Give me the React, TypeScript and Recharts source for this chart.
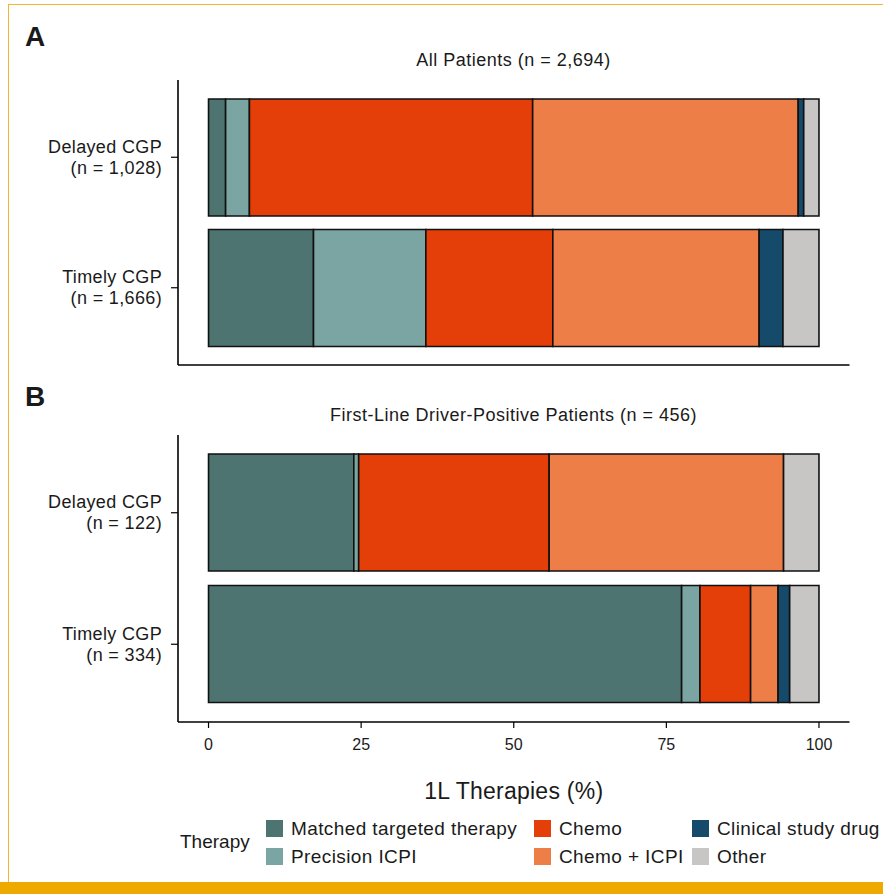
import React from "react";
import { BarChart, Bar, XAxis, YAxis } from "recharts";

// therapy categories, in stacking order (left to right)
const therapyKeys = ["matched", "precision", "chemo", "chemoIcpi", "clinical", "other"];
const therapyLabels = [
  "Matched targeted therapy",
  "Precision ICPI",
  "Chemo",
  "Chemo + ICPI",
  "Clinical study drug",
  "Other",
];
const therapyColors = ["#4d7470", "#7aa5a2", "#e43e09", "#ee7e48", "#164a6b", "#c8c5c5"];

// panel A: all patients
const allCohorts = ["Delayed CGP\n(n = 1,028)", "Timely CGP\n(n = 1,666)"];
const allDelayed = [2.8, 3.9, 46.4, 43.5, 0.9, 2.5];
const allTimely = [17.2, 18.4, 20.8, 33.8, 3.9, 5.9];

// panel B: first-line driver-positive patients
const driverCohorts = ["Delayed CGP\n(n = 122)", "Timely CGP\n(n = 334)"];
const driverDelayed = [23.8, 0.8, 31.2, 38.4, 0, 5.8];
const driverTimely = [77.5, 3.0, 8.3, 4.5, 1.9, 4.8];

const xTicks = [0, 25, 50, 75, 100];

const FONT = "'Liberation Sans', Arial, Helvetica, sans-serif";
const INK = "#1a1a1a";

function toRows(cohorts: string[], values: number[][]) {
  return cohorts.map((c, i) => {
    const row: Record<string, string | number> = { cohort: c };
    therapyKeys.forEach((k, j) => (row[k] = values[i][j]));
    return row;
  });
}

const CohortTick = (props: any) => {
  const { x, y, payload } = props;
  const [l1, l2] = String(payload.value).split("\n");
  return (
    <text
      x={x}
      y={y}
      textAnchor="end"
      fontSize={18}
      fill={INK}
      fontFamily={FONT}
      style={{ letterSpacing: "0.35px" }}
    >
      <tspan x={x} y={y - 4.5}>{l1}</tspan>
      <tspan x={x} y={y + 16.5}>{l2}</tspan>
    </text>
  );
};

function Panel({
  rows,
  showTicks,
  height,
  axisHeight,
  top,
}: {
  rows: Record<string, string | number>[];
  showTicks: boolean;
  height: number;
  axisHeight: number;
  top: number;
}) {
  return (
    <BarChart
      width={883}
      height={height}
      data={rows}
      layout="vertical"
      margin={{ top, right: 33.5, left: 0, bottom: 0 }}
    >
      <XAxis
        type="number"
        domain={[-5, 105]}
        ticks={xTicks}
        height={axisHeight}
        axisLine={{ stroke: "#000", strokeWidth: 1.6 }}
        tickLine={showTicks ? { stroke: "#000", strokeWidth: 1.2 } : false}
        tick={showTicks ? { fill: INK, fontSize: 16, fontFamily: FONT } : false}
        tickSize={6}
        tickMargin={11}
        label={
          showTicks
            ? {
                value: "1L Therapies (%)",
                position: "insideBottom",
                offset: 8,
                fill: INK,
                fontSize: 23,
                fontFamily: FONT,
                style: { letterSpacing: "0.25px" },
              }
            : undefined
        }
      />
      <YAxis
        type="category"
        dataKey="cohort"
        width={178}
        padding={{ top: 12, bottom: 12 }}
        axisLine={{ stroke: "#000", strokeWidth: 1.6 }}
        tickLine={{ stroke: "#000", strokeWidth: 1.2 }}
        tickSize={7}
        tickMargin={9}
        tick={<CohortTick />}
        interval={0}
      />
      {therapyKeys.map((k, i) => (
        <Bar
          key={k}
          dataKey={k}
          stackId="t"
          fill={therapyColors[i]}
          stroke="#111"
          strokeWidth={1.6}
          barSize={117}
          isAnimationActive={false}
        />
      ))}
    </BarChart>
  );
}

const abs = (s: React.CSSProperties): React.CSSProperties => ({ position: "absolute", ...s });

const titleStyle: React.CSSProperties = {
  left: 178,
  width: 671,
  fontSize: 18,
  lineHeight: "18px",
  letterSpacing: "0.5px",
  textAlign: "center",
  whiteSpace: "nowrap",
};

export default function App() {
  const rowsA = toRows(allCohorts, [allDelayed, allTimely]);
  const rowsB = toRows(driverCohorts, [driverDelayed, driverTimely]);
  return (
    <div
      style={abs({
        left: 0,
        top: 0,
        width: 883,
        height: 894,
        background: "#fff",
        overflow: "hidden",
        fontFamily: FONT,
        color: INK,
      })}
    >
      {/* journal frame */}
      <div style={abs({ left: 8, top: 4, width: 875, height: 1, background: "#f2b633" })} />
      <div style={abs({ left: 8, top: 4, width: 1, height: 878, background: "#f2b633" })} />
      <div style={abs({ left: 0, top: 882, width: 883, height: 12, background: "#eeaa00" })} />

      <div style={abs({ left: 0, top: 0 })}>
        <Panel rows={rowsA} showTicks={false} height={380} axisHeight={15} top={80} />
      </div>
      <div style={abs({ left: 0, top: 380 })}>
        <Panel rows={rowsB} showTicks={true} height={427} axisHeight={85} top={55} />
      </div>

      <div style={abs({ left: 25, top: 23, fontSize: 28, fontWeight: 700, lineHeight: "28px" })}>A</div>
      <div style={abs({ left: 25, top: 383, fontSize: 28, fontWeight: 700, lineHeight: "28px" })}>B</div>
      <div style={abs({ ...titleStyle, top: 51 })}>All Patients (n = 2,694)</div>
      <div style={abs({ ...titleStyle, top: 406 })}>First-Line Driver-Positive Patients (n = 456)</div>

      {/* legend */}
      <div style={abs({ left: 180, top: 831, fontSize: 19, lineHeight: "22px" })}>Therapy</div>
      {therapyKeys.map((k, i) => {
        const col = Math.floor(i / 2);
        const row = i % 2;
        const left = [266, 534, 692][col];
        const top = 820 + row * 28;
        return (
          <div key={k} style={abs({ left, top, height: 17, display: "flex", alignItems: "center" })}>
            <div style={{ width: 17, height: 17, background: therapyColors[i] }} />
            <span
              style={{
                marginLeft: 8,
                fontSize: 19,
                lineHeight: "17px",
                letterSpacing: "0.4px",
                whiteSpace: "nowrap",
              }}
            >
              {therapyLabels[i]}
            </span>
          </div>
        );
      })}
    </div>
  );
}
